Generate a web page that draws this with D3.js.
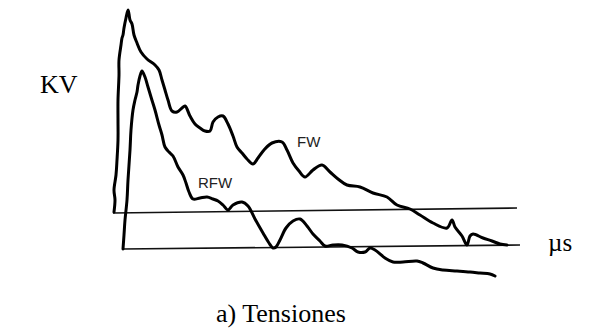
<!DOCTYPE html>
<html>
<head>
<meta charset="utf-8">
<script src="https://cdn.jsdelivr.net/npm/d3@7"></script>
<style>
  html, body { margin: 0; padding: 0; background: #fff; }
  svg { display: block; }
</style>
</head>
<body>
<svg id="chart" width="595" height="333"></svg>
<script>
// Time in µs, voltage in kV (arbitrary trace units)
const fwTime = [0.1,0.2,0.1,0.3,0.4,0.5,0.5,0.5,0.6,0.6,0.8,0.9,1.0,1.1,1.3,1.5,1.6,1.7,1.9,2.1,2.4,2.8,3.4,4.2,4.6,4.9,5.2,5.5,5.9,6.4,6.9,7.2,7.7,8.2,8.7,9.2,9.7,10.0,10.5,11.0,11.5,12.0,12.4,12.9,13.4,14.0,14.5,15.1,15.9,16.9,17.4,18.0,18.6,19.2,20.0,20.9,21.7,22.5,23.4,24.7,26.0,27.4,28.4,29.7,30.7,32.0,33.4,33.9,34.2,34.9,35.4,35.7,36.0,37.0,37.9,38.7,39.4];
const fwVolt = [18.5,24.5,29.5,37,44.5,54.5,64.5,74.5,87,94.5,102,105.5,107,110.5,115.5,119.5,117.5,114.5,112.5,107,103,98.5,95,92,89.5,84.5,79.5,74.5,69,68.5,70.5,71.5,66.5,62.5,60.5,59,59,63.5,66,66.5,62.5,56.5,51,48,45,42.5,45.5,49.5,53,53.5,49.5,43,39,36,39.5,42,38.5,35,32,31,28,26,22,20,17,13,10.5,14.5,11,6.5,2,6.5,7.5,5.5,4,2.5,2];

const rfwTime = [1.0,1.1,1.2,1.4,1.5,1.7,1.8,2.0,2.2,2.4,2.5,2.7,2.9,3.2,3.5,3.8,4.2,4.6,4.9,5.2,5.6,6.0,6.5,7.0,7.3,7.6,8.0,8.7,9.4,10.0,10.5,11.0,11.5,12.0,12.9,13.5,14.2,15.0,15.6,16.0,16.3,16.7,17.3,18.0,18.7,19.4,20.0,20.7,21.2,22.0,22.9,23.9,24.5,25.2,25.7,26.2,27.2,28.0,29.0,30.4,31.0,32.0,33.0,34.4,35.7,36.7,37.7,38.2];
const rfwVolt = [0,7,14.5,24.5,34.5,49.5,59.5,69.5,74.5,78.5,82,86.5,89,86,81,76,69.5,62,57,51,48.5,46.5,41,37,33,28.5,25,25.5,26,25,24,22,19.5,22,23.5,21.5,15,8,3,0.5,1,4.5,10.5,14,15,11.5,7.5,4,1.5,2,2,0.5,-1.5,-1.5,0.5,-0.5,-4.5,-6.5,-6.5,-6,-7,-9.5,-10.5,-11,-11.5,-12,-12.5,-13.5];

// Reference (zero) lines for each wave: [start, end] as [µs, kV]
const fwZero = [[0.0, 18], [40.4, 20.5]];
const rfwZero = [[1.0, 0], [40.7, 2]];

const seriesLabels = [
  { name: "FW",  t: 18.4, v: 51 },
  { name: "RFW", t: 8.5,  v: 30.5 }
];

const axisLabels = { y: "KV", x: "µs", caption: "a) Tensiones" };

const svg = d3.select("#chart");

const x = d3.scaleLinear().domain([0, 40]).range([113, 513]);
const y = d3.scaleLinear().domain([0, 120]).range([249, 9]);

const line = d3.line()
  .x(d => x(d[0]))
  .y(d => y(d[1]))
  .curve(d3.curveCatmullRom.alpha(0.5));

const straight = d3.line().x(d => x(d[0])).y(d => y(d[1]));

// zero lines
[fwZero, rfwZero].forEach(seg => {
  svg.append("path")
    .attr("d", straight(seg))
    .attr("fill", "none")
    .attr("stroke", "#111")
    .attr("stroke-width", 1.6);
});

// traces
const traces = [
  d3.zip(fwTime, fwVolt),
  d3.zip(rfwTime, rfwVolt)
];
traces.forEach(pts => {
  svg.append("path")
    .attr("d", line(pts))
    .attr("fill", "none")
    .attr("stroke", "#000")
    .attr("stroke-width", 3)
    .attr("stroke-linejoin", "round")
    .attr("stroke-linecap", "round");
});

// series names
svg.selectAll("text.series")
  .data(seriesLabels)
  .join("text")
  .attr("class", "series")
  .attr("x", d => x(d.t))
  .attr("y", d => y(d.v))
  .attr("font-family", "Liberation Sans, Arial, sans-serif")
  .attr("font-size", 15)
  .attr("fill", "#222")
  .text(d => d.name);

// axis names and caption
const serif = "Liberation Serif, Times New Roman, serif";
svg.append("text")
  .attr("x", 40).attr("y", 93)
  .attr("font-family", serif).attr("font-size", 26)
  .text(axisLabels.y);
svg.append("text")
  .attr("x", 548).attr("y", 251)
  .attr("font-family", serif).attr("font-size", 25)
  .text(axisLabels.x);
svg.append("text")
  .attr("x", 216).attr("y", 322)
  .attr("font-family", serif).attr("font-size", 26)
  .text(axisLabels.caption);
</script>
</body>
</html>
